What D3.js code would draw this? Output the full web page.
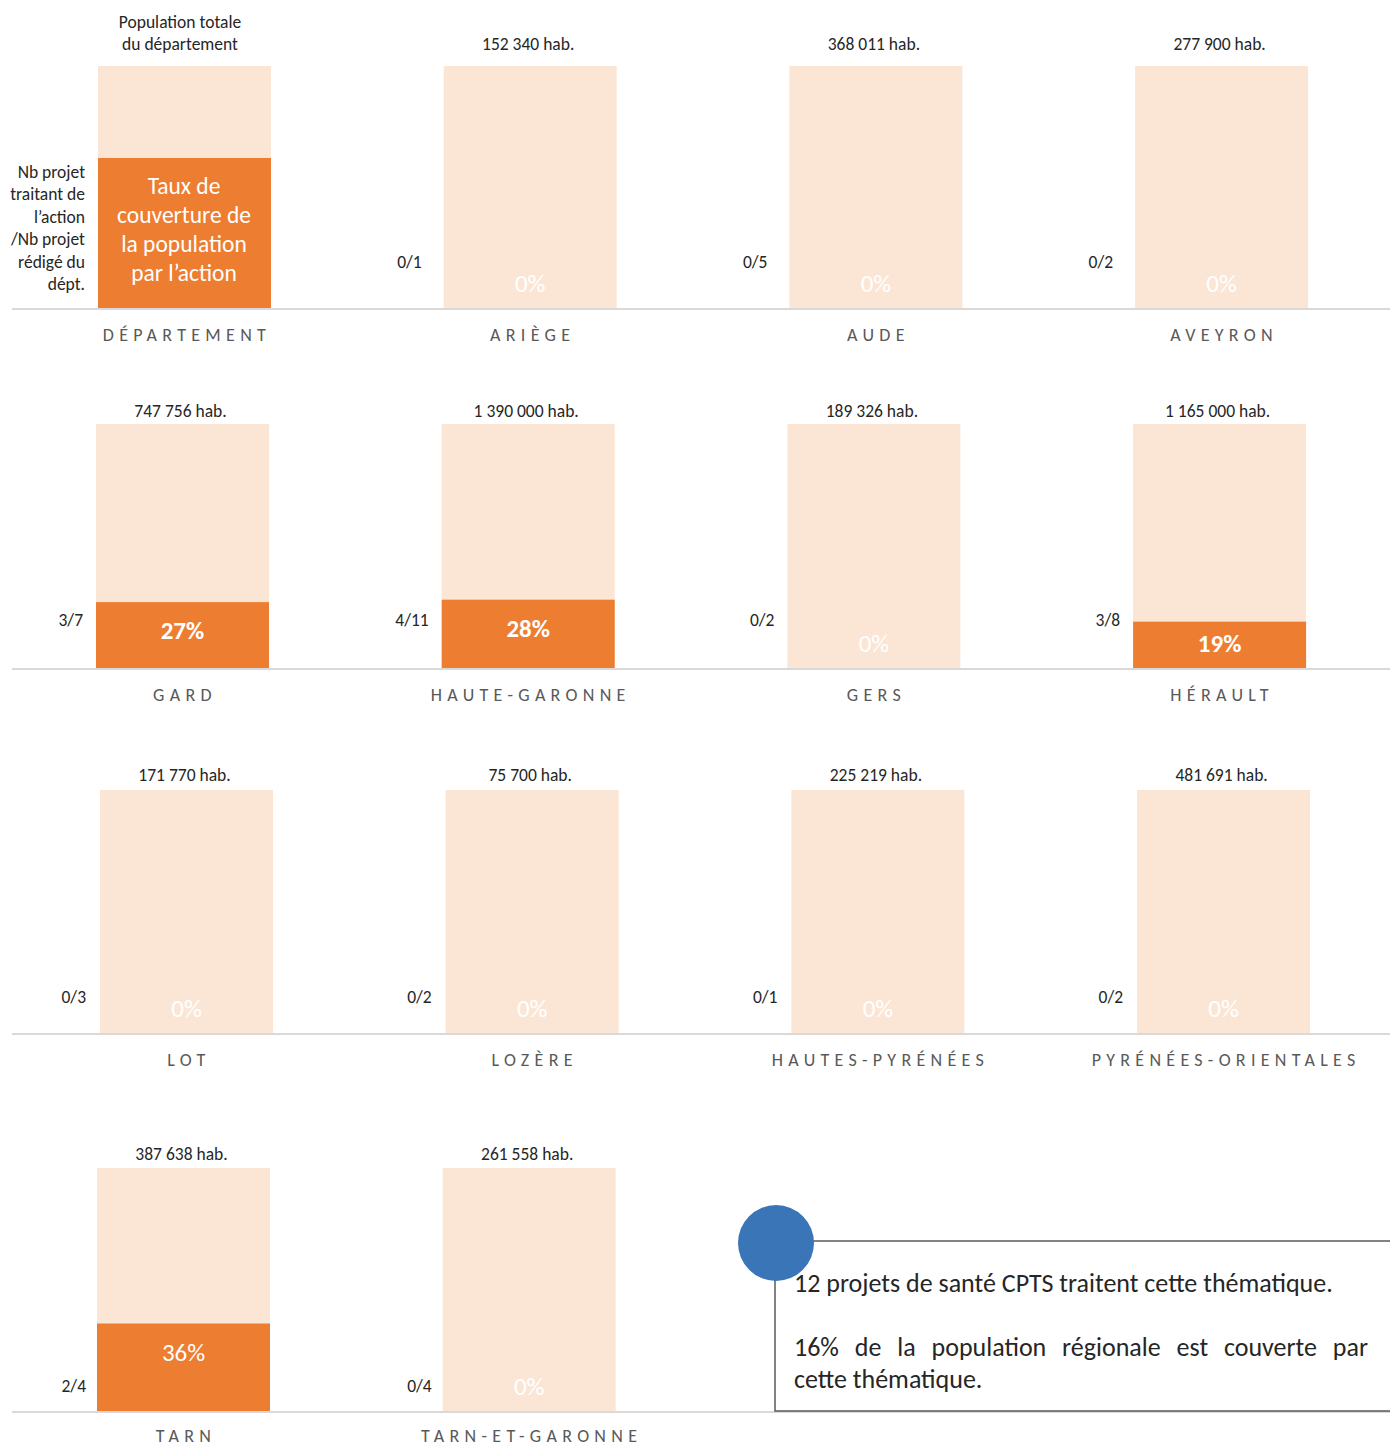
<!DOCTYPE html>
<html>
<head>
<meta charset="utf-8">
<script src="https://cdn.jsdelivr.net/npm/d3@7"></script>
<style>
  body { margin: 0; background: #fff; }
  svg text { font-family: Carlito, Lato, sans-serif; }
</style>
</head>
<body>
<script>
// données par département
const departements = ["ARIÈGE", "AUDE", "AVEYRON", "GARD", "HAUTE-GARONNE", "GERS", "HÉRAULT",
  "LOT", "LOZÈRE", "HAUTES-PYRÉNÉES", "PYRÉNÉES-ORIENTALES", "TARN", "TARN-ET-GARONNE"];
const population = ["152 340", "368 011", "277 900", "747 756", "1 390 000", "189 326", "1 165 000",
  "171 770", "75 700", "225 219", "481 691", "387 638", "261 558"];
const projetsTraitant = [0, 0, 0, 3, 4, 0, 3, 0, 0, 0, 0, 2, 0];
const projetsRediges = [1, 5, 2, 7, 11, 2, 8, 3, 2, 1, 2, 4, 4];
const couverture = [0, 0, 0, 27, 28, 0, 19, 0, 0, 0, 0, 36, 0];

const legendeCouverture = 62;
const nbProjets = 12;
const couvertureRegion = 16;

const W = 1390, H = 1446;
const peach = "#fbe6d6", orange = "#ed7d31";

// mise en page des 4 lignes
const rows = [
  { top: 66,   base: 308,  x0: 98,  popGap: 16, ratioY: 268,  ratioGap: 22, labelDy: 33 },
  { top: 424,  base: 668,  x0: 96,  popGap: 7,  ratioY: 626,  ratioGap: 13, labelDy: 33 },
  { top: 790,  base: 1033, x0: 100, popGap: 9,  ratioY: 1003, ratioGap: 14, labelDy: 33 },
  { top: 1168, base: 1411, x0: 97,  popGap: 8,  ratioY: 1392, ratioGap: 11, labelDy: 31 }
];
const barW = 173;

const svg = d3.select("body").append("svg")
  .attr("width", W)
  .attr("height", H);

const panels = departements.map((d, i) => ({
  slot: i + 1, nom: d, pop: population[i], t: projetsTraitant[i], r: projetsRediges[i], pct: couverture[i]
}));

function panelScales(slot) {
  const row = rows[Math.floor(slot / 4)];
  const col = slot % 4;
  const x = d3.scaleLinear().domain([0, 4]).range([row.x0, row.x0 + 4 * 345.7]);
  const y = d3.scaleLinear().domain([0, 100]).range([row.base, row.top]);
  return { row, x0: x(col), y };
}

// lignes de base
rows.forEach(row => {
  svg.append("line")
    .attr("x1", 12).attr("x2", W)
    .attr("y1", row.base + 1).attr("y2", row.base + 1)
    .attr("stroke", "#d9d9d9").attr("stroke-width", 2);
});

function drawPanel(p, legend) {
  const { row, x0, y } = panelScales(p.slot);
  const g = svg.append("g");
  const cx = x0 + barW / 2;

  g.append("rect")
    .attr("x", x0).attr("y", y(100))
    .attr("width", barW).attr("height", y(0) - y(100))
    .attr("fill", peach);
  g.append("rect")
    .attr("x", x0).attr("y", y(p.pct))
    .attr("width", barW).attr("height", y(0) - y(p.pct))
    .attr("fill", orange);

  // nom du département, espacé
  g.append("text")
    .attr("x", cx + 2.5).attr("y", row.base + row.labelDy)
    .attr("text-anchor", "middle")
    .style("font-size", "18px")
    .style("letter-spacing", "5.3px")
    .attr("fill", "#595959")
    .text(p.nom);

  if (legend) return g;

  g.append("text")
    .attr("x", cx - 2).attr("y", y(100) - row.popGap)
    .attr("text-anchor", "middle")
    .style("font-size", "17.5px")
    .attr("fill", "#262626")
    .text(p.pop + " hab.");

  g.append("text")
    .attr("x", x0 - row.ratioGap).attr("y", row.ratioY)
    .attr("text-anchor", "end")
    .style("font-size", "17.5px")
    .attr("fill", "#262626")
    .text(p.t + "/" + p.r);

  const ly = Math.min(y(p.pct) + 37, row.base - 16);
  g.append("text")
    .attr("x", cx).attr("y", ly)
    .attr("text-anchor", "middle")
    .style("font-size", "25px")
    .style("font-weight", p.pct > 0 && p.nom !== "TARN" ? "bold" : "normal")
    .attr("fill", "#fff")
    .text(p.pct + "%");
  return g;
}

panels.forEach(p => drawPanel(p, false));

// panneau de légende
const leg = drawPanel({ slot: 0, nom: "DÉPARTEMENT", pct: legendeCouverture }, true);
leg.selectAll("text.top")
  .data(["Population totale", "du département"])
  .enter().append("text")
  .attr("x", 180).attr("y", (d, i) => 28 + i * 22)
  .attr("text-anchor", "middle")
  .style("font-size", "17.5px")
  .attr("fill", "#262626")
  .text(d => d);
leg.selectAll("text.left")
  .data(["Nb projet", "traitant de", "l’action", "/Nb projet", "rédigé du", "dépt."])
  .enter().append("text")
  .attr("x", 85).attr("y", (d, i) => 178 + i * 22.4)
  .attr("text-anchor", "end")
  .style("font-size", "17.5px")
  .attr("fill", "#262626")
  .text(d => d);
leg.selectAll("text.inner")
  .data(["Taux de", "couverture de", "la population", "par l’action"])
  .enter().append("text")
  .attr("x", 184).attr("y", (d, i) => 194 + i * 29)
  .attr("text-anchor", "middle")
  .style("font-size", "23.5px")
  .attr("fill", "#fff")
  .text(d => d);

// encadré de synthèse
svg.append("rect")
  .attr("x", 775).attr("y", 1241)
  .attr("width", 640).attr("height", 170)
  .attr("fill", "#fff")
  .attr("stroke", "#595959").attr("stroke-width", 1.5);
svg.append("circle")
  .attr("cx", 776).attr("cy", 1243).attr("r", 38)
  .attr("fill", "#3a75b8");

svg.append("text")
  .attr("x", 794).attr("y", 1292)
  .style("font-size", "26px")
  .attr("fill", "#262626")
  .text(nbProjets + " projets de santé CPTS traitent cette thématique.");

// ligne justifiée : espacement des mots ajusté
const justified = svg.append("text")
  .attr("x", 794).attr("y", 1356)
  .style("font-size", "26px")
  .attr("fill", "#262626")
  .text(couvertureRegion + "% de la population régionale est couverte par");
const natural = justified.node().getComputedTextLength();
const nGaps = justified.text().split(" ").length - 1;
justified.style("word-spacing", ((574 - natural) / nGaps) + "px");

svg.append("text")
  .attr("x", 794).attr("y", 1388)
  .style("font-size", "26px")
  .attr("fill", "#262626")
  .text("cette thématique.");
</script>
</body>
</html>
